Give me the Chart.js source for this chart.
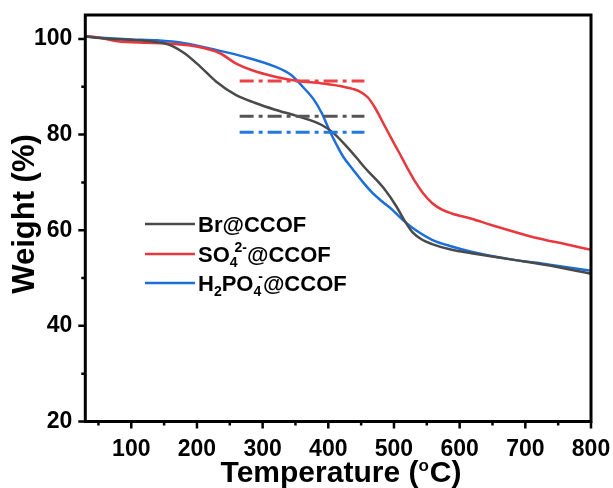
<!DOCTYPE html>
<html>
<head>
<meta charset="utf-8">
<script src="https://cdn.jsdelivr.net/npm/chart.js@4.4.1/dist/chart.umd.min.js"></script>
<style>
html,body{margin:0;padding:0;background:#fff;}
#wrap{width:613px;height:488px;}
</style>
</head>
<body>
<div id="wrap"><canvas id="tgaChart" width="613" height="488"></canvas></div>
<script>
// TGA curves
const brTemp = [30, 60, 100, 130, 157, 181, 205, 229, 259, 289, 319, 354, 390, 408, 426, 444, 456, 470, 486, 504, 516, 528, 543, 558, 588, 618, 678, 737, 800];
const brWeight = [100.5, 100.1, 99.8, 99.5, 98.8, 97.0, 94.2, 91.1, 88.3, 86.6, 85.2, 83.8, 82.0, 80.3, 77.8, 75.0, 73.0, 71.0, 68.5, 64.9, 62.0, 59.6, 58.0, 57.1, 55.9, 55.2, 53.9, 52.6, 50.9];

const so4Temp = [30, 50, 79, 120, 151, 199, 235, 259, 283, 319, 354, 390, 426, 448, 460, 472, 484, 496, 508, 520, 532, 544, 558, 573, 588, 618, 648, 708, 767, 800];
const so4Weight = [100.6, 100.3, 99.5, 99.2, 99.1, 98.4, 97.0, 94.9, 93.5, 92.1, 91.2, 90.7, 89.9, 89.0, 87.8, 85.4, 82.3, 79.2, 76.2, 73.1, 70.2, 67.8, 65.7, 64.3, 63.5, 62.4, 61.1, 58.7, 56.9, 55.9];

const h2po4Temp = [30, 60, 100, 139, 181, 229, 271, 319, 343, 361, 378, 390, 402, 414, 423, 438, 453, 468, 483, 498, 513, 528, 558, 588, 618, 678, 737, 800];
const h2po4Weight = [100.5, 100.2, 99.9, 99.7, 99.1, 97.7, 96.3, 94.2, 92.5, 90.0, 87.3, 84.5, 80.8, 77.5, 75.3, 72.6, 70.0, 67.7, 65.9, 64.2, 62.2, 60.5, 58.0, 56.6, 55.5, 53.9, 52.8, 51.5];

// dash-dot marker lines
const refStartEnd = [265, 455];
const refLevels = [91.2, 83.85, 80.5];

const xMajor = [100, 200, 300, 400, 500, 600, 700, 800];
const xMinor = [50, 150, 250, 350, 450, 550, 650, 750];
const yMajor = [20, 40, 60, 80, 100];
const yMinor = [30, 50, 70, 90];

const colors = ['#4a4a4a', '#e8383d', '#1c6ed8'];
const refColors = ['#ee4146', '#555555', '#2278e0'];

// legend labels: [text, kind]
const legendLabels = [
  [['Br@CCOF', 'n']],
  [['SO', 'n'], ['4', 'sub'], ['2-', 'sup'], ['@CCOF', 'n']],
  [['H', 'n'], ['2', 'sub'], ['PO', 'n'], ['4', 'sub'], ['-', 'sup'], ['@CCOF', 'n']]
];

function pts(t, w) {
  return t.map((v, i) => ({x: v, y: w[i]}));
}

const FONT = '"Liberation Sans", Arial, Helvetica, sans-serif';

const refSets = refLevels.map((lv, i) => ({
  data: pts(refStartEnd, [lv, lv]),
  borderColor: refColors[i],
  borderWidth: 3,
  borderDash: [14, 5, 4, 5],
  pointRadius: 0,
  tension: 0,
  fill: false
}));

const curveSets = [[brTemp, brWeight], [so4Temp, so4Weight], [h2po4Temp, h2po4Weight]].map((s, i) => ({
  data: pts(s[0], s[1]),
  borderColor: colors[i],
  borderWidth: 2.5,
  pointRadius: 0,
  cubicInterpolationMode: 'monotone',
  fill: false
}));

const extras = {
  id: 'extras',
  afterDraw(chart) {
    const ctx = chart.ctx;
    const a = chart.chartArea;
    const xs = chart.scales.x, ys = chart.scales.y;
    ctx.save();
    ctx.strokeStyle = '#000';
    ctx.lineWidth = 3;
    ctx.strokeRect(a.left, a.top, a.right - a.left, a.bottom - a.top);

    // ticks, outward
    ctx.lineWidth = 2.5;
    ctx.beginPath();
    xMajor.forEach(v => { const p = xs.getPixelForValue(v); ctx.moveTo(p, a.bottom); ctx.lineTo(p, a.bottom + 7); });
    xMinor.forEach(v => { const p = xs.getPixelForValue(v); ctx.moveTo(p, a.bottom); ctx.lineTo(p, a.bottom + 4); });
    yMajor.forEach(v => { const p = ys.getPixelForValue(v); ctx.moveTo(a.left, p); ctx.lineTo(a.left - 7, p); });
    yMinor.forEach(v => { const p = ys.getPixelForValue(v); ctx.moveTo(a.left, p); ctx.lineTo(a.left - 4, p); });
    ctx.stroke();

    ctx.fillStyle = '#000';
    // y title
    ctx.save();
    ctx.translate(34, 214);
    ctx.rotate(-Math.PI / 2);
    ctx.font = 'bold 31px ' + FONT;
    ctx.textAlign = 'center';
    ctx.textBaseline = 'alphabetic';
    ctx.fillText('Weight (%)', 0, 0);
    ctx.restore();

    // x title with superscript o
    ctx.textBaseline = 'alphabetic';
    ctx.textAlign = 'left';
    const big = 'bold 30px ' + FONT, small = 'bold 17px ' + FONT;
    ctx.font = big;
    const w1 = ctx.measureText('Temperature (').width;
    const w3 = ctx.measureText('C)').width;
    ctx.font = small;
    const w2 = ctx.measureText('o').width + 1;
    let x = 341 - (w1 + w2 + w3) / 2;
    const by = 482;
    ctx.font = big; ctx.fillText('Temperature (', x, by); x += w1;
    ctx.font = small; ctx.fillText('o', x, by - 11); x += w2;
    ctx.font = big; ctx.fillText('C)', x, by);

    // legend
    const legY = [224, 254, 283];
    legendLabels.forEach((parts, i) => {
      const y = legY[i];
      ctx.strokeStyle = colors[i];
      ctx.lineWidth = 2.5;
      ctx.beginPath();
      ctx.moveTo(145, y); ctx.lineTo(195, y);
      ctx.stroke();
      let tx = 198;
      let prev = 'n';
      parts.forEach(p => {
        if (p[1] === 'n') {
          ctx.font = 'bold 22px ' + FONT;
          ctx.fillText(p[0], tx, y + 8);
          tx += ctx.measureText(p[0]).width;
        } else {
          ctx.font = 'bold 14px ' + FONT;
          if (p[1] === 'sup' && prev === 'sub') tx -= 3;
          const dy = p[1] === 'sub' ? 13 : -2;
          ctx.fillText(p[0], tx, y + dy);
          tx += ctx.measureText(p[0]).width;
        }
        prev = p[1];
      });
    });
    ctx.restore();
  }
};

const config = {
  type: 'line',
  data: { datasets: refSets.concat(curveSets) },
  options: {
    responsive: false,
    animation: false,
    devicePixelRatio: 1,
    layout: { padding: { top: 15, right: 22, left: 0, bottom: 0 } },
    plugins: { legend: { display: false }, tooltip: { enabled: false } },
    scales: {
      x: {
        type: 'linear',
        min: 30,
        max: 800,
        afterBuildTicks: s => { s.ticks = xMajor.map(v => ({value: v})); },
        afterFit: s => { s.height = 66.5; s.paddingLeft = 0; s.paddingRight = 0; },
        grid: { display: false, drawTicks: false },
        border: { display: false },
        ticks: { color: '#000', padding: 14, autoSkip: false, maxRotation: 0, font: { family: FONT, size: 23, weight: 'bold' }, callback: v => v }
      },
      y: {
        type: 'linear',
        min: 20,
        max: 105,
        afterBuildTicks: s => { s.ticks = yMajor.map(v => ({value: v})); },
        afterFit: s => { s.width = 85.3; s.paddingTop = 0; s.paddingBottom = 0; },
        grid: { display: false, drawTicks: false },
        border: { display: false },
        ticks: { color: '#000', padding: 13, autoSkip: false, font: { family: FONT, size: 23, weight: 'bold' }, callback: v => v }
      }
    }
  },
  plugins: [extras]
};

new Chart('tgaChart', config);
</script>
</body>
</html>
